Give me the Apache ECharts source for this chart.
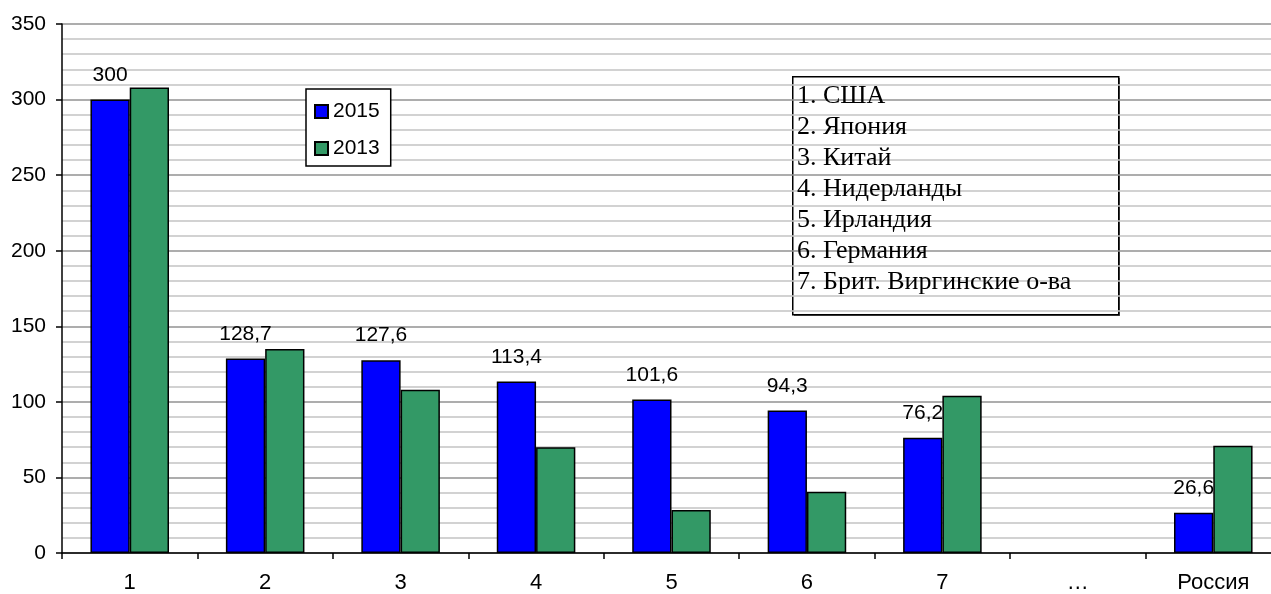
<!DOCTYPE html>
<html>
<head>
<meta charset="utf-8">
<script src="https://cdn.jsdelivr.net/npm/echarts@6/dist/echarts.min.js"></script>
<style>
  html, body { margin: 0; padding: 0; background: #fff; overflow: hidden; }
  /* область построения в оригинале обрезана справа, поэтому холст чуть шире окна */
  #chart { width: 1282px; height: 594px; }
</style>
</head>
<body>
<div id="chart"></div>
<script>
// категории по оси X
const categories = ['1', '2', '3', '4', '5', '6', '7', '…', 'Россия']
// значения по годам
const values2015 = [300, 128.7, 127.6, 113.4, 101.6, 94.3, 76.2, null, 26.6]
const values2013 = [308, 135, 108, 70, 28.5, 40.5, 104, null, 71]
// расшифровка номеров
const countryNotes = [
  '1. США',
  '2. Япония',
  '3. Китай',
  '4. Нидерланды',
  '5. Ирландия',
  '6. Германия',
  '7. Брит. Виргинские о-ва'
]

const chart = echarts.init(document.getElementById('chart'), null, { renderer: 'canvas' })
const font = '"Liberation Sans", Arial, sans-serif'

chart.setOption({
  animation: false,
  textStyle: { fontFamily: font },
  grid: { left: 62, top: 24, width: 1219, height: 531 },
  legend: {
    orient: 'vertical',
    left: 306,
    top: 89,
    padding: [12, 11, 7, 8],
    itemGap: 16,
    itemWidth: 13,
    itemHeight: 13,
    icon: 'rect',
    borderColor: '#000',
    borderWidth: 1.5,
    backgroundColor: '#fff',
    textStyle: { fontSize: 21, color: '#000', fontFamily: font }
  },
  xAxis: {
    type: 'category',
    data: categories,
    axisLine: { lineStyle: { color: '#000', width: 1.5 } },
    axisTick: { show: true, length: 6, lineStyle: { color: '#000', width: 1.5 } },
    axisLabel: { fontSize: 22, color: '#000', margin: 19, interval: 0 },
    splitLine: { show: false }
  },
  yAxis: {
    type: 'value',
    min: 0,
    max: 350,
    interval: 50,
    axisLine: { show: true, lineStyle: { color: '#000', width: 1.5 } },
    axisTick: { show: true, length: 6, lineStyle: { color: '#000', width: 1.5 } },
    axisLabel: { fontSize: 21, color: '#000', margin: 16 },
    splitLine: { lineStyle: { color: '#929292', width: 1.5 } },
    minorTick: { show: false, splitNumber: 5 },
    minorSplitLine: { show: true, lineStyle: { color: '#c4c4c4', width: 1.5 } }
  },
  // рамка с расшифровкой номеров стран
  title: {
    text: countryNotes.join('\n'),
    left: 792,
    top: 76,
    padding: [5, 0, 0, 5],
    itemGap: 0,
    textStyle: {
      fontFamily: '"Liberation Serif", "Times New Roman", serif',
      fontSize: 26,
      fontWeight: 'normal',
      lineHeight: 31,
      color: '#000',
      width: 321,
      height: 233
    }
  },
  graphic: [
    {
      type: 'rect',
      left: 794,
      top: 78,
      z: -1,
      shape: { width: 326, height: 238 },
      style: { fill: '#666' }
    },
    {
      type: 'rect',
      left: 792,
      top: 76,
      z: 0,
      shape: { width: 326, height: 238 },
      style: { fill: '#fff', stroke: '#000', lineWidth: 1.5 }
    }
  ],
  series: [
    {
      name: '2015',
      type: 'bar',
      z: 2,
      data: values2015,
      barGap: '0%',
      barCategoryGap: '42%',
      itemStyle: { color: '#0000ff', borderColor: '#000', borderWidth: 1.5 },
      label: {
        show: true,
        position: 'top',
        distance: 14,
        fontSize: 21,
        color: '#000',
        formatter: p => String(p.value).replace('.', ',')
      }
    },
    {
      name: '2013',
      type: 'bar',
      z: 3,
      data: values2013,
      barGap: '0%',
      barCategoryGap: '42%',
      itemStyle: { color: '#339966', borderColor: '#000', borderWidth: 1.5 }
    }
  ]
})
</script>
</body>
</html>
